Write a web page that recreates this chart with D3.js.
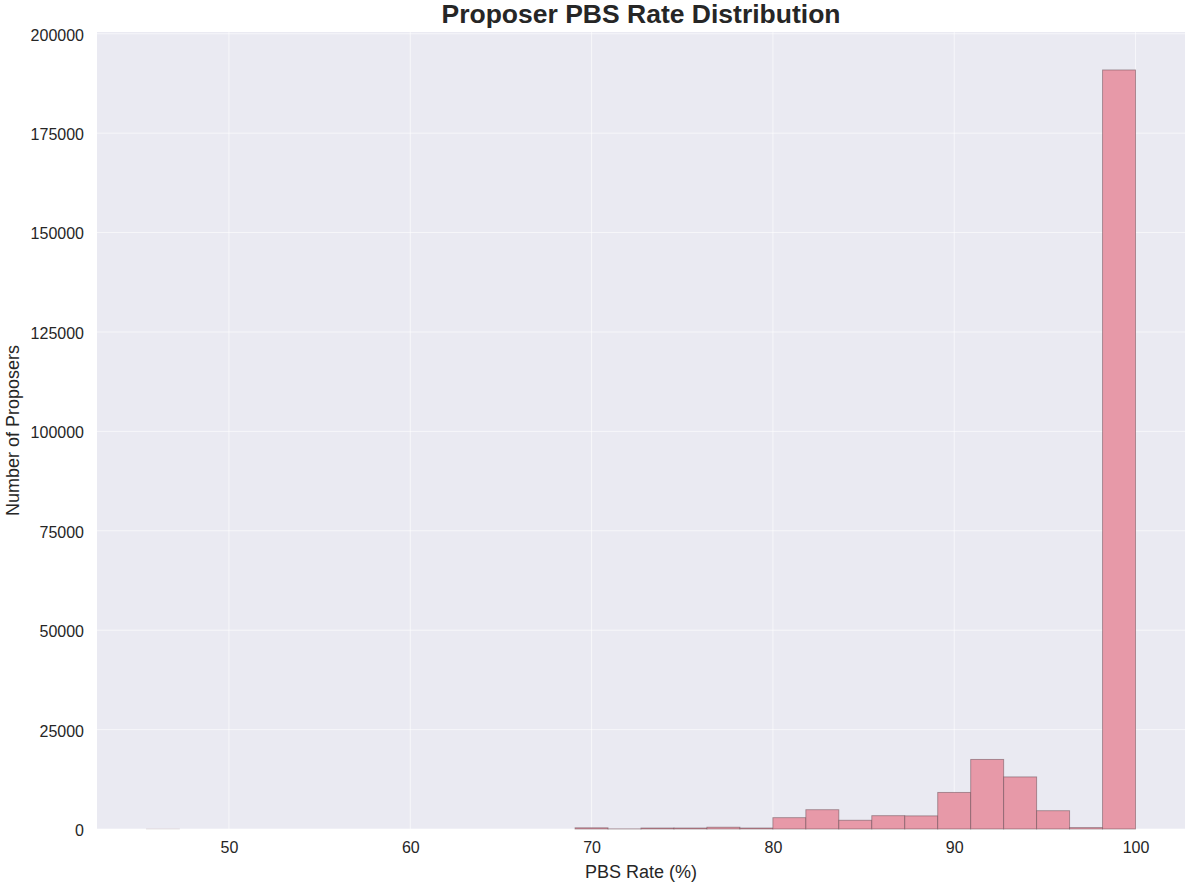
<!DOCTYPE html>
<html>
<head>
<meta charset="utf-8">
<script src="https://cdn.jsdelivr.net/npm/d3@7"></script>
<style>
  html, body { margin: 0; padding: 0; background: #fff; }
  svg { display: block; font-family: "Liberation Sans", Arial, Helvetica, sans-serif; }
</style>
</head>
<body>
<svg id="chart" width="1204" height="892"></svg>
<script>
// ---- Data ----
const histMin = 45.45;          // lowest PBS rate (%)
const histMax = 100;            // highest PBS rate (%)
const binCounts = [
  6, 0, 0, 0, 0, 0, 0, 0, 0, 0,
  0, 0, 0, 300, 30, 250, 250, 450, 250, 2850,
  4850, 2200, 3350, 3300, 9200, 17500, 13100, 4600, 350, 190900
];
const xTicks = [50, 60, 70, 80, 90, 100];
const yTicks = [0, 25000, 50000, 75000, 100000, 125000, 150000, 175000, 200000];
const titleText = "Proposer PBS Rate Distribution";
const xLabel = "PBS Rate (%)";
const yLabel = "Number of Proposers";

// ---- Layout ----
const svg = d3.select("#chart");
const plot = { left: 97, right: 1185, top: 32, bottom: 829 };

const nBins = binCounts.length;
const binW = (histMax - histMin) / nBins;
const bins = binCounts.map((c, i) => ({ x0: histMin + i * binW, x1: histMin + (i + 1) * binW, count: c }));

const xPad = (histMax - histMin) * 0.05;
const x = d3.scaleLinear().domain([histMin - xPad, histMax + xPad]).range([plot.left, plot.right]);
const y = d3.scaleLinear().domain([0, d3.max(binCounts) * 1.05]).range([plot.bottom, plot.top]);

// background
svg.append("rect")
  .attr("x", plot.left).attr("y", plot.top)
  .attr("width", plot.right - plot.left).attr("height", plot.bottom - plot.top)
  .attr("fill", "#eaeaf2");

// grid
const grid = svg.append("g");
grid.selectAll("line.v").data(xTicks).join("line")
  .attr("x1", d => x(d)).attr("x2", d => x(d))
  .attr("y1", plot.top).attr("y2", plot.bottom)
  .attr("stroke", "#ffffff").attr("stroke-opacity", 0.6).attr("stroke-width", 1);
grid.selectAll("line.h").data(yTicks).join("line")
  .attr("y1", d => y(d)).attr("y2", d => y(d))
  .attr("x1", plot.left).attr("x2", plot.right)
  .attr("stroke", "#ffffff").attr("stroke-opacity", 0.6).attr("stroke-width", 1);

// bars
svg.append("g").selectAll("rect").data(bins.filter(b => b.count > 0)).join("rect")
  .attr("x", d => x(d.x0))
  .attr("width", d => x(d.x1) - x(d.x0))
  .attr("y", d => y(d.count))
  .attr("height", d => y(0) - y(d.count))
  .attr("fill", "#e799a8")
  .attr("stroke", "#5a4048")
  .attr("stroke-opacity", d => d.count < 20 ? 0.15 : 0.5)
  .attr("stroke-width", 0.9);

// x axis (no spine, no ticks)
const xAxis = svg.append("g")
  .attr("transform", `translate(0,${plot.bottom})`)
  .call(d3.axisBottom(x).tickValues(xTicks).tickSize(0).tickPadding(0).tickFormat(d3.format("d")));
xAxis.select(".domain").remove();
xAxis.selectAll("text")
  .attr("y", 24).attr("dy", 0)
  .attr("font-size", 16).attr("fill", "#262626")
  .attr("font-family", "Liberation Sans, Arial, sans-serif");

// y axis
const yAxis = svg.append("g")
  .attr("transform", `translate(${plot.left},0)`)
  .call(d3.axisLeft(y).tickValues(yTicks).tickSize(0).tickPadding(13).tickFormat(d3.format("d")));
yAxis.select(".domain").remove();
yAxis.selectAll("text")
  .attr("dy", "0.4em")
  .attr("font-size", 16).attr("fill", "#262626")
  .attr("font-family", "Liberation Sans, Arial, sans-serif");

// labels
svg.append("text")
  .attr("x", (plot.left + plot.right) / 2).attr("y", 878)
  .attr("text-anchor", "middle").attr("font-size", 18).attr("fill", "#262626")
  .text(xLabel);

svg.append("text")
  .attr("transform", `translate(19,${(plot.top + plot.bottom) / 2}) rotate(-90)`)
  .attr("text-anchor", "middle").attr("font-size", 18).attr("fill", "#262626")
  .text(yLabel);

svg.append("text")
  .attr("x", (plot.left + plot.right) / 2).attr("y", 23)
  .attr("text-anchor", "middle").attr("font-size", 26.5).attr("font-weight", "bold").attr("fill", "#262626")
  .text(titleText);
</script>
</body>
</html>
